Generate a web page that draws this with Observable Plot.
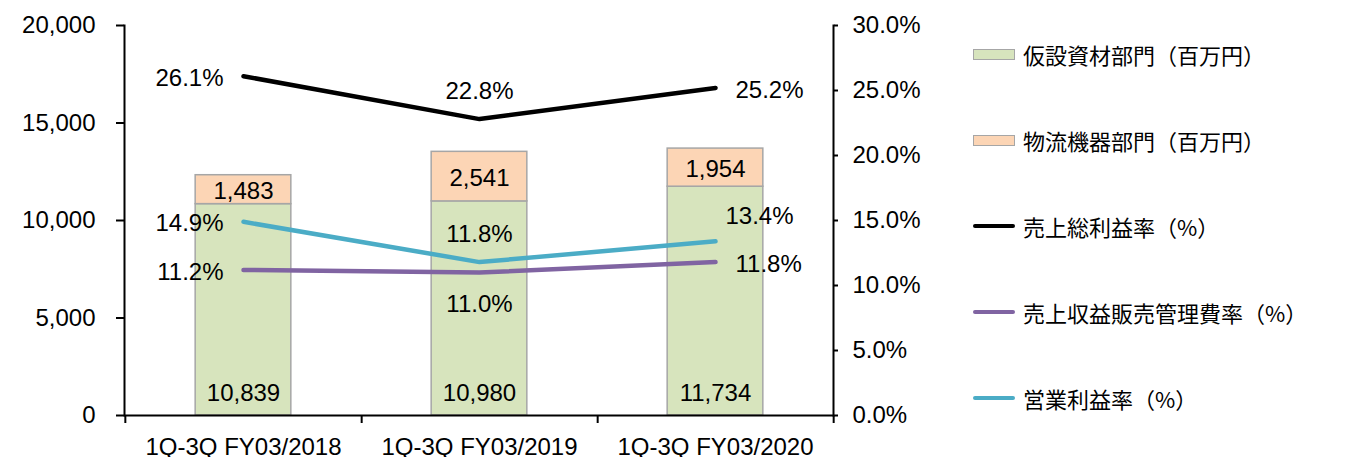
<!DOCTYPE html>
<html>
<head>
<meta charset="utf-8">
<script src="https://cdn.jsdelivr.net/npm/d3@7"></script>
<script src="https://cdn.jsdelivr.net/npm/@observablehq/plot@0.6"></script>
<style>
  html, body { margin: 0; padding: 0; background: #fff; }
  #wrap { position: relative; width: 1348px; height: 457px; }
  #legend { position: absolute; left: 973px; top: 11px; font-family: "Noto Sans CJK JP", "Noto Sans", sans-serif; font-size: 22px; color: #000; }
  .item { height: 86px; display: flex; align-items: center; }
  .sw { width: 42px; margin-right: 8px; box-sizing: border-box; }
  .sw.rect { height: 11px; border: 1.5px solid #A6A6A6; }
  .sw.line { height: 4px; border-radius: 2px; }
</style>
</head>
<body>
<div id="wrap"><div id="chart"></div><div id="legend"></div></div>
<script>
// ---- data ----
const categories = ["1Q-3Q FY03/2018", "1Q-3Q FY03/2019", "1Q-3Q FY03/2020"];
const kasetsuSales = [10839, 10980, 11734];      // 仮設資材部門（百万円）
const butsuryuSales = [1483, 2541, 1954];        // 物流機器部門（百万円）
const grossMargin = [26.1, 22.8, 25.2];          // 売上総利益率（%）
const sgaRatio = [11.2, 11.0, 11.8];             // 売上収益販売管理費率（%）
const opMargin = [14.9, 11.8, 13.4];             // 営業利益率（%）
const leftTicks = [0, 5000, 10000, 15000, 20000];
const rightTicks = [0, 5, 10, 15, 20, 25, 30];
const seriesNames = ["仮設資材部門（百万円）", "物流機器部門（百万円）", "売上総利益率（%）", "売上収益販売管理費率（%）", "営業利益率（%）"];

// ---- styling / layout ----
const W = 1348, H = 457;
const mL = 124, mR = 515, mT = 25, mB = 42;
const yMax = 20000, pMax = 30;
const colors = ["#D7E4BD", "#FCD5B5", "#000000", "#8064A2", "#4BACC6"];
const font = "'Liberation Sans', Arial, sans-serif";
const fs = 24;
const step = (W - mL - mR) / categories.length;
const barInset = (step - 96) / 2;
const tickLen = 8 * yMax / (H - mT - mB);   // 8px expressed in y units
const labelPlace = {
  gross: ["left", "above", "right"],
  sga: ["left", "below", "right"],
  op: ["left", "above", "aboveRight"]
};
const placeStyle = {
  left: {textAnchor: "end", dx: -20, dy: 2},
  right: {textAnchor: "start", dx: 20, dy: 2},
  above: {textAnchor: "middle", dx: 0, dy: -28},
  below: {textAnchor: "middle", dx: 0, dy: 32},
  aboveRight: {textAnchor: "start", dx: 10, dy: -25}
};

const toY = p => p * yMax / pMax;
const bars = categories.map((c, i) => ({c, g: kasetsuSales[i], o: butsuryuSales[i]}));
const lineSeries = [
  {key: "gross", values: grossMargin, color: colors[2]},
  {key: "sga", values: sgaRatio, color: colors[3]},
  {key: "op", values: opMargin, color: colors[4]}
];
const lineData = lineSeries.map(s => categories.map((c, i) => ({c, v: toY(s.values[i]), p: s.values[i], place: labelPlace[s.key][i]})));
const allLabels = lineData.flat();

const marks = [
  Plot.barY(bars, {x: "c", y1: 0, y2: "g", fill: colors[0], stroke: "#A6A6A6", strokeWidth: 1.5, insetLeft: barInset, insetRight: barInset}),
  Plot.barY(bars, {x: "c", y1: "g", y2: d => d.g + d.o, fill: colors[1], stroke: "#A6A6A6", strokeWidth: 1.5, insetLeft: barInset, insetRight: barInset}),
  Plot.text(bars, {x: "c", y: 0, text: d => d3.format(",")(d.g), dy: -22, fontSize: fs, fill: "#000"}),
  Plot.text(bars, {x: "c", y: d => d.g + d.o / 2, text: d => d3.format(",")(d.o), dy: 2, fontSize: fs, fill: "#000"}),
  ...lineData.map((d, k) => Plot.line(d, {x: "c", y: "v", stroke: lineSeries[k].color, strokeWidth: 4.5, strokeLinecap: "round", strokeLinejoin: "round"})),
  ...Object.keys(placeStyle).map(pl => Plot.text(allLabels.filter(d => d.place === pl), {
    x: "c", y: "v", text: d => d.p.toFixed(1) + "%", fontSize: fs, fill: "#000", ...placeStyle[pl]
  })),
  Plot.frame({anchor: "left", stroke: "#000", strokeWidth: 2}),
  Plot.frame({anchor: "right", stroke: "#000", strokeWidth: 2}),
  Plot.ruleY([0], {stroke: "#000", strokeWidth: 2}),
  // category boundary ticks below the x axis
  Plot.ruleX(categories, {x: d => d, y1: 0, y2: -tickLen, dx: step / 2, stroke: "#000", strokeWidth: 2}),
  Plot.ruleX(categories.slice(0, 1), {x: d => d, y1: 0, y2: -tickLen, dx: -step / 2, stroke: "#000", strokeWidth: 2}),
  Plot.axisY(leftTicks, {anchor: "left", tickSize: 8, tickPadding: 21, tickFormat: d3.format(","), fontSize: fs, strokeWidth: 2, color: "#000", label: null}),
  Plot.axisY(rightTicks.map(toY), {anchor: "right", tickSize: 4, tickPadding: 15, tickFormat: v => (v * pMax / yMax).toFixed(1) + "%", fontSize: fs, strokeWidth: 2, color: "#000", label: null}),
  Plot.axisX({anchor: "bottom", tickSize: 0, tickPadding: 22, fontSize: fs, color: "#000", label: null})
];

const chart = Plot.plot({
  width: W, height: H,
  marginLeft: mL, marginRight: mR, marginTop: mT, marginBottom: mB,
  x: {domain: categories, padding: 0, axis: null, label: null},
  y: {domain: [0, yMax], axis: null, label: null},
  style: {fontFamily: font, fontSize: fs + "px", color: "#000", background: "#fff", overflow: "visible"},
  marks
});
document.getElementById("chart").appendChild(chart);

// legend
const legend = document.getElementById("legend");
seriesNames.forEach((name, i) => {
  const item = document.createElement("div");
  item.className = "item";
  const sw = document.createElement("div");
  sw.className = "sw " + (i < 2 ? "rect" : "line");
  sw.style.background = colors[i];
  const t = document.createElement("span");
  t.textContent = name;
  item.appendChild(sw);
  item.appendChild(t);
  legend.appendChild(item);
});
</script>
</body>
</html>
